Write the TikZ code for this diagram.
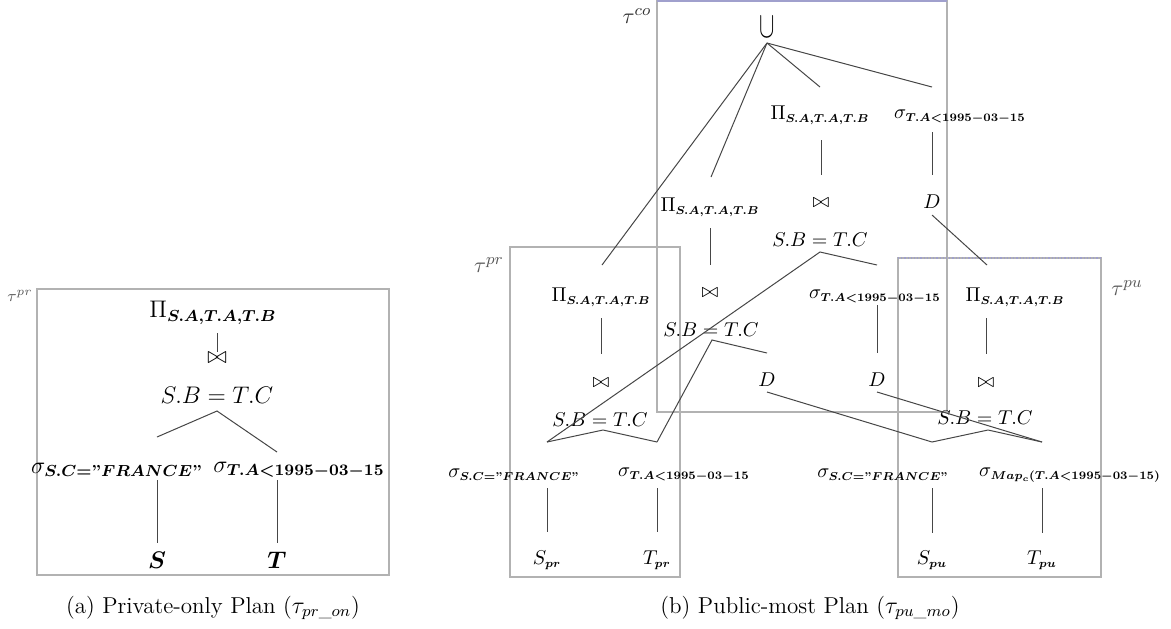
\documentclass[tikz,border=0pt]{standalone}
\usepackage{amsmath,amssymb,bm}
\usepackage{graphicx}
\definecolor{boxgray}{RGB}{178,178,178}
\definecolor{boxblue}{RGB}{160,160,205}
\definecolor{linegray}{RGB}{70,70,70}
\definecolor{taggray}{RGB}{90,90,90}
% bold subscripts of the operator labels; the second one is set a little smaller
\newcommand{\asub}[1]{\boldsymbol{#1}}
\newcommand{\bsub}[1]{\scalebox{0.82}{$\scriptstyle\boldsymbol{#1}$}}
\newcommand{\dq}{\text{\bfseries''}}
\begin{document}
\begin{tikzpicture}[x=0.5pt,y=-0.5pt,
  lbl/.style={inner sep=0pt, font=\fontsize{10}{12}\selectfont},
  lbla/.style={inner sep=0pt, font=\fontsize{12}{14}\selectfont},
  tag/.style={inner sep=0pt, text=taggray, font=\fontsize{11}{13}\selectfont},
  captext/.style={inner sep=0pt, font=\fontsize{11.5}{14}\selectfont},
  edge/.style={draw=linegray, line width=0.5pt},
  frame/.style={draw=boxgray, line width=0.6pt}]
\useasboundingbox (0,0) rectangle (1171,628);

% ---------------- (a) private-only plan ----------------
\draw[frame] (37,289) rectangle (389,575);
\node[tag, font=\fontsize{8}{9}\selectfont] (a-tag) at (20,296) {$\tau^{pr}$};

\node[lbla] (a-pi)   at (213,313) {$\Pi_{\asub{S.A,T.A,T.B}}$};
\node[lbla] (a-join) at (217,358) {$\bowtie$};
\node[lbla] (a-cond) at (217,395) {$S.B=T.C$};
\node[lbla] (a-selS) at (117,470) {$\sigma_{\asub{S.C=\dq FRANCE\dq}}$};
\node[lbla] (a-selT) at (299,470) {$\sigma_{\asub{T.A<1995-03-15}}$};
\node[lbla] (a-S)    at (157,560) {$\boldsymbol{S}$};
\node[lbla] (a-T)    at (277,560) {$\boldsymbol{T}$};

\coordinate (a-pi-b)   at (217,333);
\coordinate (a-join-t) at (217,352);
\coordinate (a-cond-b) at (217,411);
\coordinate (a-selS-t) at (157,437);
\coordinate (a-selT-t) at (277,452);
\coordinate (a-selS-b) at (157,480);
\coordinate (a-S-t)    at (157,543);
\coordinate (a-selT-b) at (277,480);
\coordinate (a-T-t)    at (277,543);

\draw[edge] (a-pi-b) -- (a-join-t);
\draw[edge] (a-selS-t) -- (a-cond-b) -- (a-selT-t);
\draw[edge] (a-selS-b) -- (a-S-t);
\draw[edge] (a-selT-b) -- (a-T-t);

\node[captext] (a-cap) at (213,608) {(a) Private-only Plan ($\tau_{pr\_on}$)};

% ---------------- (b) public-most plan ----------------
% partition frames
\draw[frame] (657,1) rectangle (947,412);
\draw[boxblue, line width=0.6pt] (657,1) -- (947,1);
\draw[frame] (510,247) rectangle (680,577);
\draw[frame] (898,258) rectangle (1101,577);
\draw[boxblue, line width=0.6pt, densely dotted] (898,258) -- (1101,258);

\node[tag, text=black!80] (co-tag) at (637,16) {$\tau^{co}$};
\node[tag] (pr-tag) at (489,265) {$\tau^{pr}$};
\node[tag] (pu-tag) at (1127,288) {$\tau^{pu}$};

% root union
\node[lbl] (u) at (767,27) {\scalebox{1.15}[1.85]{$\cup$}};
\coordinate (u-b) at (767,43);

% composition part
\node[lbl] (c-pi)    at (820,115) {$\Pi_{\bsub{S.A,T.A,T.B}}$};
\node[lbl] (c-sel)   at (960,117) {$\sigma_{\bsub{T.A<1995-03-15}}$};
\node[lbl] (c-join)  at (821,203) {$\bowtie$};
\node[lbl] (c-D)     at (932,202) {$D$};
\node[lbl] (c-cond)  at (820,240) {$S.B=T.C$};

\node[lbl] (m-pi)    at (710,207) {$\Pi_{\bsub{S.A,T.A,T.B}}$};
\node[lbl] (m-join)  at (710,293) {$\bowtie$};
\node[lbl] (m-cond)  at (711,330) {$S.B=T.C$};
\node[lbl] (m-sel)   at (875,297) {$\sigma_{\bsub{T.A<1995-03-15}}$};
\node[lbl] (m-D1)    at (767,380) {$D$};
\node[lbl] (m-D2)    at (877,380) {$D$};

% private partition
\node[lbl] (p-pi)    at (601,297) {$\Pi_{\bsub{S.A,T.A,T.B}}$};
\node[lbl] (p-join)  at (601,383) {$\bowtie$};
\node[lbl] (p-cond)  at (600,420) {$S.B=T.C$};
\node[lbl] (p-selS)  at (514,475) {$\sigma_{\bsub{S.C=\dq FRANCE\dq}}$};
\node[lbl] (p-selT)  at (684,475) {$\sigma_{\bsub{T.A<1995-03-15}}$};
\node[lbl] (p-S)     at (547,560) {$S_{\bsub{pr}}$};
\node[lbl] (p-T)     at (657,560) {$T_{\bsub{pr}}$};

% public partition
\node[lbl] (q-pi)    at (1015,297) {$\Pi_{\bsub{S.A,T.A,T.B}}$};
\node[lbl] (q-join)  at (986,383) {$\bowtie$};
\node[lbl] (q-cond)  at (985,418) {$S.B=T.C$};
\node[lbl] (q-selS)  at (883,475) {$\sigma_{\bsub{S.C=\dq FRANCE\dq}}$};
\node[lbl] (q-selT)  at (1070,475) {$\sigma_{\bsub{Map_c(T.A<1995-03-15)}}$};
\node[lbl] (q-S)     at (932,560) {$S_{\bsub{pu}}$};
\node[lbl] (q-T)     at (1042,560) {$T_{\bsub{pu}}$};

% connector end points
\coordinate (p-pi-t)   at (602,265);
\coordinate (m-pi-t)   at (711,177);
\coordinate (c-pi-t)   at (820,87);
\coordinate (c-sel-t)  at (932,87);
\coordinate (c-pi-b)   at (821,140);
\coordinate (c-join-t) at (821,175);
\coordinate (c-sel-b)  at (932,132);
\coordinate (c-D-t)    at (932,175);
\coordinate (c-D-b)    at (932,215);
\coordinate (q-pi-t)   at (987,265);
\coordinate (c-cond-b) at (820,252);
\coordinate (m-sel-t)  at (877,265);
\coordinate (m-pi-b)   at (710,228);
\coordinate (m-join-t) at (710,265);
\coordinate (m-cond-b) at (712,340);
\coordinate (m-D1-t)   at (767,353);
\coordinate (m-sel-b)  at (877,305);
\coordinate (m-D2-t)   at (877,353);
\coordinate (m-D1-b)   at (767,392);
\coordinate (m-D2-b)   at (877,392);
\coordinate (p-pi-b)   at (601,318);
\coordinate (p-join-t) at (601,354);
\coordinate (p-cond-b) at (603,430);
\coordinate (p-selS-t) at (547,442);
\coordinate (p-selT-t) at (657,442);
\coordinate (p-selS-b) at (547,488);
\coordinate (p-S-t)    at (547,532);
\coordinate (p-selT-b) at (657,488);
\coordinate (p-T-t)    at (657,532);
\coordinate (q-pi-b)   at (986,318);
\coordinate (q-join-t) at (986,354);
\coordinate (q-cond-b) at (988,430);
\coordinate (q-selS-t) at (932,442);
\coordinate (q-selT-t) at (1042,442);
\coordinate (q-selS-b) at (932,488);
\coordinate (q-S-t)    at (932,533);
\coordinate (q-selT-b) at (1042,488);
\coordinate (q-T-t)    at (1042,533);

% union fan-out
\draw[edge] (u-b) -- (p-pi-t);
\draw[edge] (u-b) -- (m-pi-t);
\draw[edge] (u-b) -- (c-pi-t);
\draw[edge] (u-b) -- (c-sel-t);

% composition subtrees
\draw[edge] (c-pi-b) -- (c-join-t);
\draw[edge] (c-sel-b) -- (c-D-t);
\draw[edge] (c-D-b) -- (q-pi-t);
\draw[edge] (p-selS-t) -- (c-cond-b) -- (m-sel-t);
\draw[edge] (m-pi-b) -- (m-join-t);
\draw[edge] (p-selT-t) -- (m-cond-b) -- (m-D1-t);
\draw[edge] (m-sel-b) -- (m-D2-t);
\draw[edge] (m-D1-b) -- (q-selS-t);
\draw[edge] (m-D2-b) -- (q-selT-t);

% private subtree
\draw[edge] (p-pi-b) -- (p-join-t);
\draw[edge] (p-selS-t) -- (p-cond-b) -- (p-selT-t);
\draw[edge] (p-selS-b) -- (p-S-t);
\draw[edge] (p-selT-b) -- (p-T-t);

% public subtree
\draw[edge] (q-pi-b) -- (q-join-t);
\draw[edge] (q-selS-t) -- (q-cond-b) -- (q-selT-t);
\draw[edge] (q-selS-b) -- (q-S-t);
\draw[edge] (q-selT-b) -- (q-T-t);

\node[captext] (b-cap) at (810,608) {(b) Public-most Plan ($\tau_{pu\_mo}$)};
\end{tikzpicture}
\end{document}
